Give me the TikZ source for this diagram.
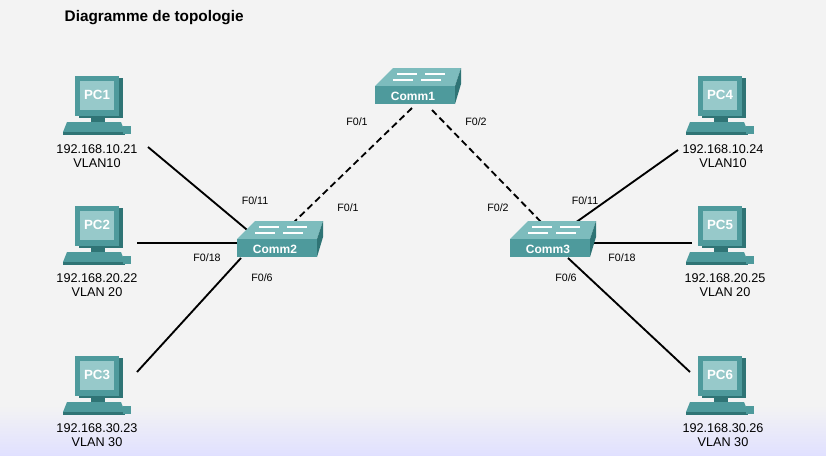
\documentclass[tikz,border=0pt]{standalone}
\usepackage{fontspec}
\setmainfont{Liberation Sans}
\usetikzlibrary{positioning}
\definecolor{teal1}{HTML}{4E9A9C}
\definecolor{teal2}{HTML}{7DBCBD}
\definecolor{teal3}{HTML}{2F7475}
\definecolor{bgc}{HTML}{F3F3F3}
\tikzset{
  port/.style={font=\fontsize{8}{9}\selectfont},
  addr/.style={font=\fontsize{9.5}{10.5}\selectfont, align=center},
  link/.style={line width=1.4pt},
  trunk/.style={line width=1.4pt, dash pattern=on 5pt off 3pt},
  pc/.pic={
    \fill[teal3] (-18,-20) rectangle (26,20);
    \fill[teal1] (-22,-22) rectangle (22,18);
    \fill[teal2!80] (-17,-17) rectangle (17,12);
    \node[white, font=\bfseries\fontsize{10}{10}\selectfont] (-name) at (0,-3) {#1};
    \fill[teal3] (-6,18) rectangle (8,24);
    \fill[teal1] (-30,24) -- (24,24) -- (28,34) -- (-34,34) -- cycle;
    \fill[teal3] (-34,34) rectangle (28,37);
    \fill[teal1] (26,28) rectangle (34,36);
  },
  switch/.pic={
    \fill[teal2] (-40,-10) -- (-22,-28) -- (46,-28) -- (40,-10) -- cycle;
    \fill[teal3] (40,-10) -- (46,-28) -- (46,-12) -- (40,8) -- cycle;
    \fill[teal1] (-40,-10) rectangle (40,8);
    \draw[white, line width=0.8pt] (-18,-22) -- (2,-22) (10,-22) -- (30,-22)
      (-22,-16) -- (-2,-16) (6,-16) -- (26,-16);
    \node[white, font=\bfseries\fontsize{9}{9}\selectfont] (-name) at (-2,0) {#1};
  }
}
\begin{document}
\begin{tikzpicture}[x=0.75pt, y=-0.75pt]
  % background
  \useasboundingbox (0,0) rectangle (826,455);
  \fill[bgc] (0,0) rectangle (826,455);
  \shade[top color=bgc, bottom color=blue!12] (0,405) rectangle (826,455);
  \node[anchor=west, font=\bfseries\fontsize{11.5}{12}\selectfont] (title) at (60,18) {Diagramme de topologie};

  % computers
  \pic (pc1) at (97,98) {pc={PC1}};
  \pic (pc2) at (97,228) {pc={PC2}};
  \pic (pc3) at (97,378) {pc={PC3}};
  \pic (pc4) at (720,98) {pc={PC4}};
  \pic (pc5) at (720,228) {pc={PC5}};
  \pic (pc6) at (720,378) {pc={PC6}};

  % addresses
  \node[addr] (a1) at (97,156) {192.168.10.21\\VLAN10};
  \node[addr] (a2) at (97,285) {192.168.20.22\\VLAN 20};
  \node[addr] (a3) at (97,435) {192.168.30.23\\VLAN 30};
  \node[addr] (a4) at (723,156) {192.168.10.24\\VLAN10};
  \node[addr] (a5) at (725,285) {192.168.20.25\\VLAN 20};
  \node[addr] (a6) at (723,435) {192.168.30.26\\VLAN 30};

  % link end points
  \coordinate (p1) at (148,147);
  \coordinate (p2) at (137,243);
  \coordinate (p3) at (137,372);
  \coordinate (p4) at (678,150);
  \coordinate (p5) at (692,243);
  \coordinate (p6) at (690,372);
  \coordinate (c1a) at (412,108);
  \coordinate (c1b) at (432,110);
  \coordinate (c2t) at (292,224);
  \coordinate (c2a) at (252,234);
  \coordinate (c2b) at (240,243);
  \coordinate (c2c) at (241,258);
  \coordinate (c3t) at (544,225);
  \coordinate (c3a) at (575,223);
  \coordinate (c3b) at (590,243);
  \coordinate (c3c) at (568,258);

  % links
  \draw[link] (p1) -- (c2a);
  \draw[link] (p2) -- (c2b);
  \draw[link] (p3) -- (c2c);
  \draw[link] (p4) -- (c3a);
  \draw[link] (p5) -- (c3b);
  \draw[link] (p6) -- (c3c);
  \draw[trunk] (c1a) -- (c2t);
  \draw[trunk] (c1b) -- (c3t);

  % switches
  \pic (comm1) at (415,96) {switch={Comm1}};
  \pic (comm2) at (277,249) {switch={Comm2}};
  \pic (comm3) at (550,249) {switch={Comm3}};

  % ports
  \node[port] (q1) at (357,122) {F0/1};
  \node[port] (q2) at (476,122) {F0/2};
  \node[port] (q3) at (348,208) {F0/1};
  \node[port] (q4) at (498,208) {F0/2};
  \node[port] (q5) at (255,201) {F0/11};
  \node[port] (q6) at (207,258) {F0/18};
  \node[port] (q7) at (262,278) {F0/6};
  \node[port] (q8) at (585,201) {F0/11};
  \node[port] (q9) at (622,258) {F0/18};
  \node[port] (q10) at (566,278) {F0/6};
\end{tikzpicture}
\end{document}
